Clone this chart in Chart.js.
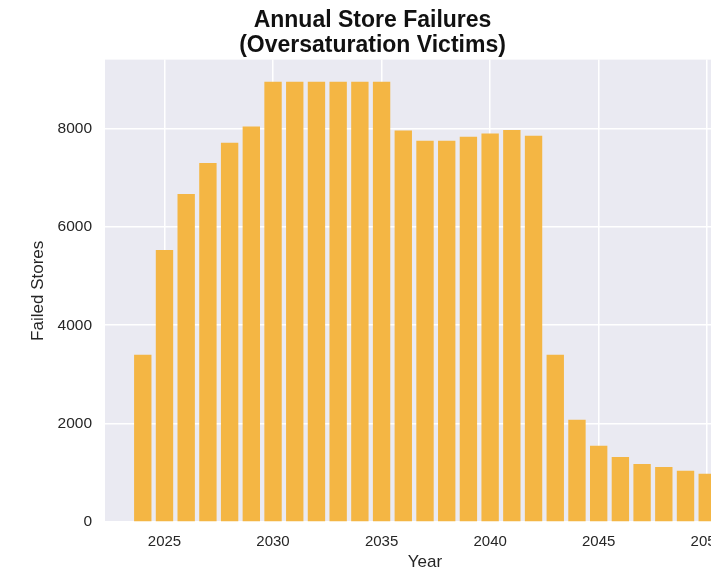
<!DOCTYPE html>
<html>
<head>
<meta charset="utf-8">
<script src="https://cdn.jsdelivr.net/npm/chart.js@4"></script>
<style>
html,body{margin:0;padding:0;background:#fff;overflow:hidden;}
#wrap{width:711px;height:570px;overflow:hidden;}
</style>
</head>
<body>
<div id="wrap"><canvas id="chart" width="850" height="590"></canvas></div>
<script>
// data
const years = [2024,2025,2026,2027,2028,2029,2030,2031,2032,2033,2034,2035,2036,2037,2038,2039,2040,2041,2042,2043,2044,2045,2046,2047,2048,2049,2050];
const failedStores = [3400,5530,6670,7300,7710,8040,8950,8950,8950,8950,8950,8950,7960,7750,7750,7830,7900,7970,7850,3400,2080,1550,1320,1180,1120,1040,980];
const yTicks = [0,2000,4000,6000,8000];
const xTicks = [2025,2030,2035,2040,2045,2050];

const font = "'Liberation Sans', Arial, sans-serif";
const textColor = "#262626";

const plotBg = {
  id:"plotBg",
  beforeDraw(c){
    const a = c.chartArea, ctx = c.ctx;
    ctx.save();
    ctx.fillStyle = "#eaeaf2";
    ctx.fillRect(a.left, a.top, a.right - a.left, a.bottom - a.top);
    ctx.restore();
  }
};

let chart = new Chart(document.getElementById("chart"), {
  type:"bar",
  data:{
    datasets:[{
      data: years.map((y,i)=>({x:y, y:failedStores[i]})),
      backgroundColor:"#f4b644",
      borderWidth:0,
      barPercentage:0.8,
      categoryPercentage:1.0
    }]
  },
  options:{
    responsive:false,
    animation:false,
    devicePixelRatio:1,
    // right padding keeps the title centred over the plot, as in the original figure
    layout:{padding:{left:0,right:105,top:0,bottom:0}},
    plugins:{
      legend:{display:false},
      tooltip:{enabled:false},
      title:{
        display:true,
        text:["Annual Store Failures","(Oversaturation Victims)"],
        color:"#111",
        font:{family:font, size:23, weight:"bold", lineHeight:1.1},
        padding:{top:8, bottom:1}
      }
    },
    scales:{
      x:{
        type:"linear",
        min:2022.26,
        max:2051.74,
        offset:false,
        border:{display:false},
        grid:{color:"#ffffff", lineWidth:1.5, drawTicks:false, offset:false},
        afterBuildTicks(s){ s.ticks = xTicks.map(v=>({value:v})); },
        afterFit(s){ s.height = 68; },
        ticks:{color:textColor, padding:11, font:{family:font, size:15}, maxRotation:0,
          callback:v=>String(v)},
        title:{display:true, text:"Year", color:textColor,
          font:{family:font, size:17}, padding:{top:0,bottom:17}}
      },
      y:{
        min:0,
        max:9400,
        border:{display:false},
        grid:{color:"#ffffff", lineWidth:1.5, drawTicks:false},
        afterBuildTicks(s){ s.ticks = yTicks.map(v=>({value:v})); },
        afterFit(s){ s.width = 105; },
        ticks:{color:textColor, padding:13, font:{family:font, size:15.5},
          callback:v=>String(v)},
        title:{display:true, text:"Failed Stores", color:textColor,
          font:{family:font, size:17}, padding:{top:28,bottom:0}}
      }
    }
  },
  plugins:[plotBg]
});
</script>
</body>
</html>
